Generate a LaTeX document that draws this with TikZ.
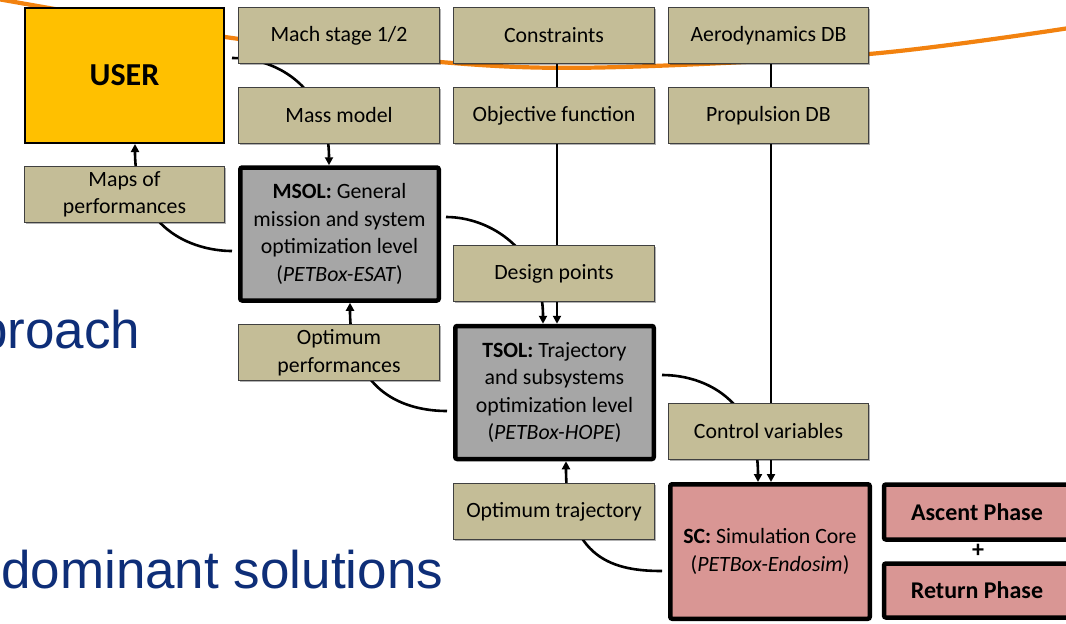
\documentclass[tikz,border=0pt]{standalone}
\usepackage{fontspec}
\setmainfont{Carlito}
\newfontfamily\headfont{Liberation Sans}
\usetikzlibrary{arrows.meta,shadows}
\definecolor{userfill}{HTML}{FFC000}
\definecolor{tanfill}{HTML}{C4BD97}
\definecolor{greyfill}{HTML}{A6A6A6}
\definecolor{pinkfill}{HTML}{D99694}
\definecolor{orbit}{HTML}{F2820F}
\definecolor{titleblue}{HTML}{0E2E78}
\pgfdeclarelayer{bg}
\pgfsetlayers{bg,main}
\begin{document}
\begin{tikzpicture}[x=1pt,y=-1pt,
  base/.style={align=center, inner sep=0pt, font=\fontsize{21.8}{27.5}\selectfont},
  tanbox/.style={base, draw=black!75, line width=1.3pt, fill=tanfill,
    minimum width=200.5pt, minimum height=56pt,
    drop shadow={shadow xshift=1.6pt, shadow yshift=-1.6pt, opacity=0.3, fill=black}},
  levelbox/.style={base, draw=black, line width=4.5pt, rounded corners=2pt, fill=greyfill,
    minimum width=198.5pt, minimum height=133pt},
  corebox/.style={base, draw=black, line width=4.5pt, rounded corners=2pt, fill=pinkfill},
  link/.style={line width=2.6pt, black},
  arr/.style={link, -{Triangle[length=8pt,width=8pt]}},
  heading/.style={inner sep=0pt, anchor=base west, text=titleblue,
    font=\headfont\fontsize{53}{60}\selectfont}
]
\useasboundingbox (0,0) rectangle (1066,624);

% side headings
\node[heading] (h1) at (-22,348) {proach};
\node[heading] (h2) at (1,588) {dominant solutions};

% user
\node[base, draw=black, line width=2pt, fill=userfill, minimum width=199pt, minimum height=135pt,
  font=\bfseries\fontsize{32}{32}\selectfont] (user) at (124.5,75.5) {USER};

% input boxes
\node[tanbox] (mach) at (339,35.5) {Mach stage 1/2};
\node[tanbox] (cons) at (554,35.5) {Constraints};
\node[tanbox] (aero) at (768.5,35.5) {Aerodynamics DB};
\node[tanbox] (mass) at (339,115.5) {Mass model};
\node[tanbox] (obj) at (554,115.5) {Objective function};
\node[tanbox] (prop) at (768.5,115.5) {Propulsion DB};
\node[tanbox] (maps) at (124.5,194.5) {Maps of\\performances};
\node[tanbox] (design) at (554,273.5) {Design points};
\node[tanbox] (optperf) at (339,352.5) {Optimum\\performances};
\node[tanbox] (ctrl) at (768.5,431.5) {Control variables};
\node[tanbox] (opttraj) at (554,511.5) {Optimum trajectory};

% optimisation levels
\node[levelbox] (msol) at (339.5,234) {\textbf{MSOL:} General\\mission and system\\optimization level\\(\textit{PETBox-ESAT})};
\node[levelbox] (tsol) at (554.5,392.5) {\textbf{TSOL:} Trajectory\\and subsystems\\optimization level\\(\textit{PETBox-HOPE})};

% simulation core and phases
\node[corebox, minimum width=199.5pt, minimum height=134.5pt] (sc) at (770,551.5)
  {\textbf{SC:} Simulation Core\\(\textit{PETBox-Endosim})};
\node[corebox, minimum width=186pt, minimum height=55pt,
  font=\bfseries\fontsize{24}{24}\selectfont] (ascent) at (977,512) {Ascent Phase};
\node[corebox, minimum width=186pt, minimum height=54pt,
  font=\bfseries\fontsize{24}{24}\selectfont] (return) at (977,590.5) {Return Phase};
\node[inner sep=0pt, font=\bfseries\fontsize{24}{24}\selectfont] (plus) at (978,551) {+};

% free ends of the curved links
\coordinate (u-out) at (232,58);
\coordinate (m-out) at (446,217);
\coordinate (m-in) at (232,251);
\coordinate (t-out) at (662,375);
\coordinate (t-in) at (447,411);
\coordinate (s-in) at (662,571);

\begin{pgfonlayer}{bg}
  % orbit sketch behind the boxes
  \draw[orbit, line width=4.2pt] plot[smooth, tension=0.55] coordinates
    {(-8,-2) (225,37) (440,62) (600,67.5) (869,54) (1076,27)};

  \draw[arr] (u-out) .. controls (280,58) and (329,90) .. ([xshift=-10.5pt]msol.north);
  \draw[arr] ([xshift=3pt]cons.south) -- ([xshift=3pt]cons.south |- tsol.north);
  \draw[arr] (m-out) .. controls (490,217) and (543,250) .. ([xshift=-11.5pt]tsol.north);
  \draw[arr] ([xshift=2.5pt]aero.south) -- ([xshift=2.5pt]aero.south |- sc.north);
  \draw[arr] (t-out) .. controls (705,375) and (758,400) .. ([xshift=-12pt]sc.north);
  \draw[arr] (m-in) .. controls (200,251) and (135,235) .. ([xshift=10.5pt]user.south);
  \draw[arr] (t-in) .. controls (415,411) and (350,400) .. ([xshift=10.5pt]msol.south);
  \draw[arr] (s-in) .. controls (615,571) and (566,560) .. ([xshift=11.5pt]tsol.south);
\end{pgfonlayer}
\end{tikzpicture}
\end{document}
